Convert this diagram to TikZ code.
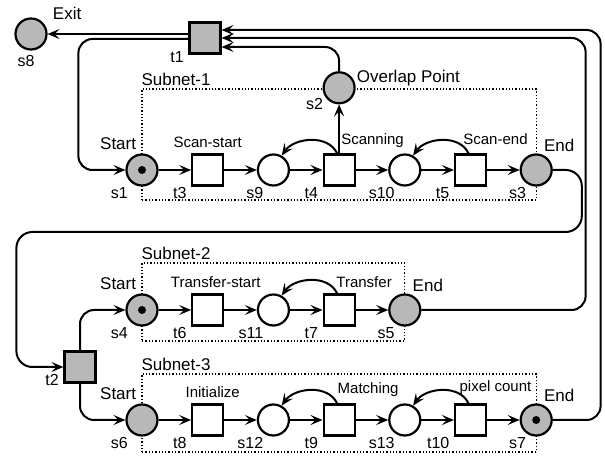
\documentclass[tikz,border=0pt]{standalone}
\usepackage{fontspec}
\setmainfont{Liberation Sans}
\usepackage{tikz}
\usetikzlibrary{arrows.meta,positioning,fit,backgrounds,petri}

\begin{document}
\begin{tikzpicture}[
    x=1pt, y=1pt,
    node distance=32.5pt,
    every place/.style={minimum size=31pt, inner sep=0pt, line width=2.2pt, fill=white},
    every transition/.style={minimum size=31pt, inner sep=0pt, line width=2.2pt, fill=white},
    every token/.style={minimum size=8pt},
    stipple/.style={fill=black!28},
    arrow/.style={->, >={Stealth[length=12pt, width=10pt, inset=5pt]}, line width=2pt},
    subnet/.style={draw, dotted, line width=1.3pt, inner sep=0pt},
    big/.style={font=\fontsize{17}{19}\selectfont, inner sep=0pt},
    tlbl/.style={font=\fontsize{15}{17}\selectfont, inner sep=0pt, anchor=base},
    pname/.style={font=\fontsize{16}{18}\selectfont, inner sep=0pt, anchor=north east, xshift=-10pt, yshift=-1pt},
    tname/.style={pname, xshift=-11pt},
    startlbl/.style={big, anchor=base east, xshift=6pt, yshift=9pt},
    endlbl/.style={big, anchor=base west, xshift=-4pt, yshift=7pt}
]
    \useasboundingbox (0,0) rectangle (605,457);

    % exit and overlap
    \node[place, stipple, label={[pname, anchor=north, xshift=5pt, yshift=-4pt]below:s8}, label={[big, anchor=base west, xshift=10pt, yshift=3pt]north east:Exit}] (s8) at (31,423) {};
    \node[transition, stipple, label={[tname, yshift=4.5pt]below:t1}] (t1) at (205,419) {};

    % subnet 1
    \node[place, stipple, tokens=1, label={[pname, xshift=-4pt]below:s1}, label={[startlbl]north west:Start}] (s1) at (142,287) {};
    \node[transition, right=of s1, label={[tname]below:t3}, label={[tlbl, yshift=6pt]north:Scan-start}] (t3) {};
    \node[place, right=of t3, label={[pname]below:s9}] (s9) {};
    \node[transition, right=of s9, label={[tname]below:t4}, label={[tlbl, anchor=base west, xshift=2pt, yshift=9pt]north:Scanning}] (t4) {};
    \node[place, right=of t4, label={[pname]below:s10}] (s10) {};
    \node[transition, right=of s10, label={[tname]below:t5}, label={[tlbl, xshift=25pt, yshift=9pt]north:Scan-end}] (t5) {};
    \node[place, stipple, right=of t5, label={[pname]below:s3}, label={[endlbl]north east:End}] (s3) {};
    \node[place, stipple, above=49pt of t4, label={[pname, xshift=-6pt, yshift=7.5pt]below:s2}, label={[big, anchor=base west, xshift=1pt, yshift=5pt]east:Overlap Point}] (s2) {};

    % subnet 2
    \node[place, stipple, tokens=1, label={[pname, xshift=-4pt]below:s4}, label={[startlbl]north west:Start}] (s4) at (142,147) {};
    \node[transition, right=of s4, label={[tname]below:t6}, label={[tlbl, xshift=8pt, yshift=6pt]north:Transfer-start}] (t6) {};
    \node[place, right=of t6, label={[pname]below:s11}] (s11) {};
    \node[transition, right=of s11, label={[tname]below:t7}, label={[tlbl, xshift=25pt, yshift=6pt]north:Transfer}] (t7) {};
    \node[place, stipple, right=of t7, label={[pname]below:s5}, label={[endlbl]north east:End}] (s5) {};

    \node[transition, stipple, label={[tname, yshift=10.5pt]below:t2}] (t2) at (80,90) {};

    % subnet 3
    \node[place, stipple, label={[pname, xshift=-4pt]below:s6}, label={[startlbl]north west:Start}] (s6) at (142,37) {};
    \node[transition, right=of s6, label={[tname]below:t8}, label={[tlbl, xshift=5pt, yshift=6pt]north:Initialize}] (t8) {};
    \node[place, right=of t8, label={[pname]below:s12}] (s12) {};
    \node[transition, right=of s12, label={[tname]below:t9}, label={[tlbl, xshift=29pt, yshift=10pt]north:Matching}] (t9) {};
    \node[place, right=of t9, label={[pname]below:s13}] (s13) {};
    \node[transition, right=of s13, label={[tname]below:t10}, label={[tlbl, xshift=25pt, yshift=12pt]north:pixel count}] (t10) {};
    \node[place, stipple, tokens=1, right=of t10, label={[pname]below:s7}, label={[endlbl]north east:End}] (s7) {};

    \begin{scope}[on background layer]
        \node[subnet, fit={([yshift=-30pt]s1.center) ([yshift=81pt]s3.center)}, label={[big, anchor=base west, yshift=3pt]north west:Subnet-1}] (sub1) {};
        \node[subnet, fit={([yshift=-31pt]s4.center) ([yshift=47pt]s5.center)}, label={[big, anchor=base west, yshift=3pt]north west:Subnet-2}] (sub2) {};
        \node[subnet, fit={([yshift=-32pt]s6.center) ([yshift=46pt]s7.center)}, label={[big, anchor=base west, yshift=3pt]north west:Subnet-3}] (sub3) {};
    \end{scope}

    % flow inside the subnets
    \draw[arrow] (s1) -- (t3);
    \draw[arrow] (t3) -- (s9);
    \draw[arrow] (s9) -- (t4);
    \draw[arrow] (t4) -- (s10);
    \draw[arrow] (s10) -- (t5);
    \draw[arrow] (t5) -- (s3);
    \draw[arrow] (t4) -- (s2);
    \draw[arrow] ([xshift=-2pt]t4.north) to[out=115, in=55] (s9.60);
    \draw[arrow] ([xshift=-2pt]t5.north) to[out=115, in=55] (s10.60);

    \draw[arrow] (s4) -- (t6);
    \draw[arrow] (t6) -- (s11);
    \draw[arrow] (s11) -- (t7);
    \draw[arrow] (t7) -- (s5);
    \draw[arrow] ([xshift=-2pt]t7.north) to[out=115, in=55] (s11.60);

    \draw[arrow] (s6) -- (t8);
    \draw[arrow] (t8) -- (s12);
    \draw[arrow] (s12) -- (t9);
    \draw[arrow] (t9) -- (s13);
    \draw[arrow] (s13) -- (t10);
    \draw[arrow] (t10) -- (s7);
    \draw[arrow] ([xshift=-2pt]t9.north) to[out=115, in=55] (s12.60);
    \draw[arrow] ([xshift=-2pt]t10.north) to[out=115, in=55] (s13.60);

    % links between the subnets
    \draw[arrow] ([yshift=4pt]t1.west) -- (s8);
    \draw[arrow, rounded corners=14pt] ([yshift=-1pt]t1.west) -| ([xshift=-47pt]s1.west) -- (s1.west);
    \draw[arrow, rounded corners=14pt] (s2.north) |- ([yshift=-9pt]t1.east);
    \draw[arrow, rounded corners=14pt] (s5.east) -| ([xshift=364pt]t1.east) -- (t1.east);
    \draw[arrow, rounded corners=14pt] (s7.east) -| ([xshift=379pt, yshift=8pt]t1.east) -- ([yshift=8pt]t1.east);
    \draw[arrow, rounded corners=16pt] (s3.east) -| ([xshift=29pt, yshift=-62pt]s3.east) -| ([xshift=-47pt]t2.west) -- (t2.west);
    \draw[arrow, rounded corners=14pt] (t2.north) |- (s4.west);
    \draw[arrow, rounded corners=14pt] (t2.south) |- (s6.west);
\end{tikzpicture}
\end{document}
